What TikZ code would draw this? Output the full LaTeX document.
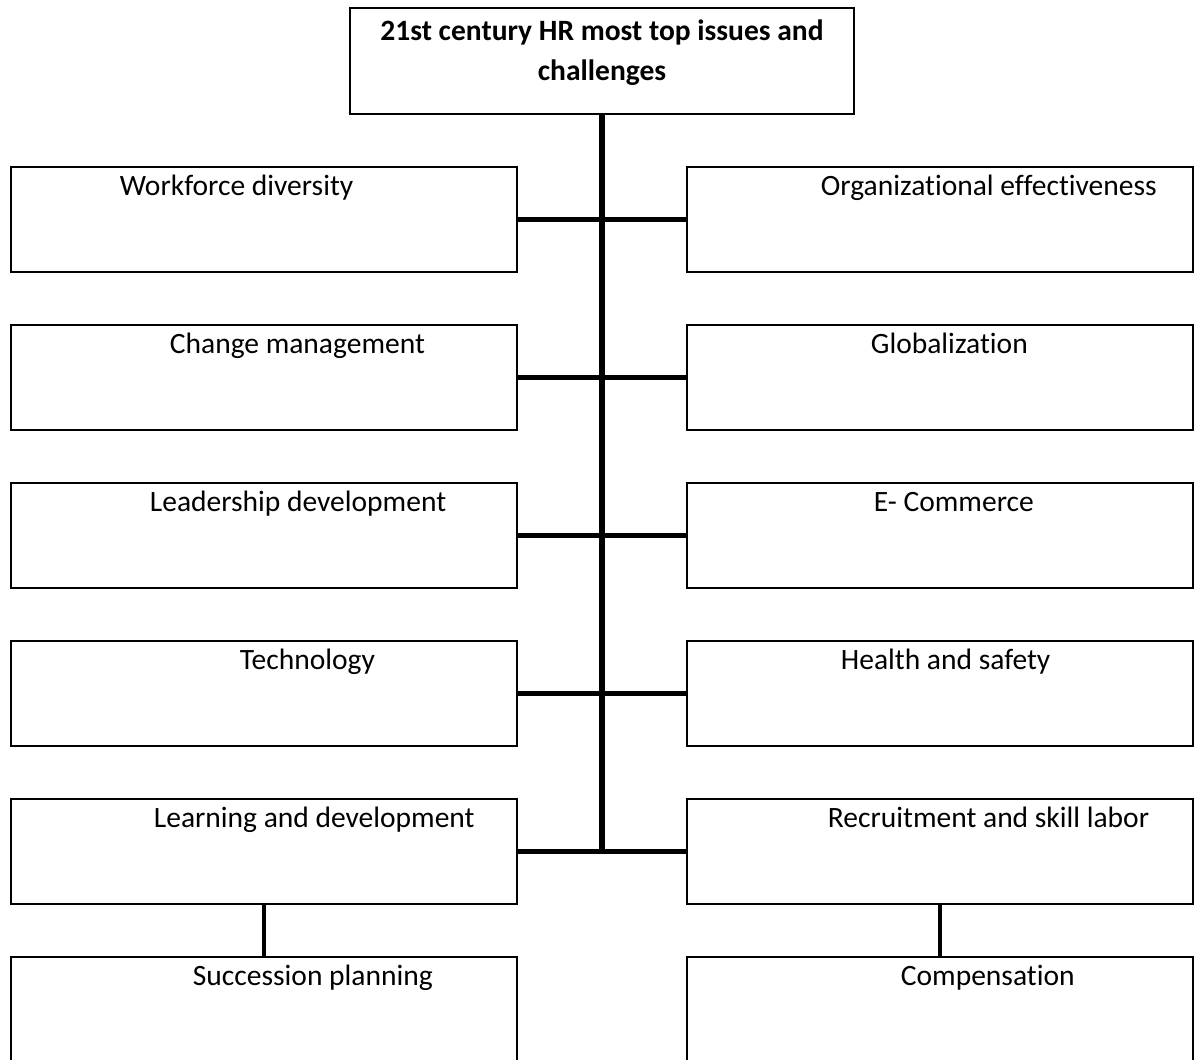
\documentclass[tikz,border=0pt]{standalone}
\usepackage{fontspec}
\setmainfont{Carlito}[Ligatures=NoCommon]

\begin{document}
\begin{tikzpicture}[x=0.02cm,y=-0.02cm,every node/.style={font=\fontsize{16.8}{23.2}\selectfont}]
    \tikzstyle{box}=[rectangle,draw,line width=1.1pt,minimum width=10.14cm,minimum height=2.1cm,inner sep=0pt];
    \tikzstyle{lbl}=[anchor=base west,inner sep=0pt];
    \tikzstyle{link}=[line width=2.8pt];
    \tikzstyle{spine}=[line width=3.7pt];
    \useasboundingbox (0,0) rectangle (1197,1059);
    % --- top: title ---
    \node[box,minimum width=10.1cm,minimum height=2.12cm] (top) at (602,61) {};
    \node[anchor=north,inner sep=0pt,align=center,
          font=\fontsize{16.8}{23.2}\selectfont\bfseries] (ttl) at ([yshift=-0.24cm]top.north)
      {21st century HR most top issues and\\challenges};
    \coordinate (spineend) at (602,853);
    % --- left column ---
    \node[box] (wd)  at (264,219.5)  {};
    \node[box] (cm)  at (264,377.5)  {};
    \node[box] (ld)  at (264,535.5)  {};
    \node[box] (te)  at (264,693.5)  {};
    \node[box] (lnd) at (264,851.5)  {};
    \node[box] (sp)  at (264,1009.5) {};
    \node[lbl] (wdt)  at ([shift={(2.2cm,-0.58cm)}]wd.north west)   {Workforce diversity};
    \node[lbl] (cmt)  at ([shift={(3.2cm,-0.58cm)}]cm.north west)   {Change management};
    \node[lbl] (ldt)  at ([shift={(2.8cm,-0.58cm)}]ld.north west)   {Leadership development};
    \node[lbl] (tet)  at ([shift={(4.6cm,-0.58cm)}]te.north west)   {Technology};
    \node[lbl] (lndt) at ([shift={(2.88cm,-0.58cm)}]lnd.north west) {Learning and development};
    \node[lbl] (spt)  at ([shift={(3.66cm,-0.58cm)}]sp.north west)  {Succession planning};
    % --- right column ---
    \node[box] (oe) at (940,219.5)  {};
    \node[box] (gl) at (940,377.5)  {};
    \node[box] (ec) at (940,535.5)  {};
    \node[box] (hs) at (940,693.5)  {};
    \node[box] (rs) at (940,851.5)  {};
    \node[box] (co) at (940,1009.5) {};
    \node[lbl] (oet) at ([shift={(2.7cm,-0.58cm)}]oe.north west)  {Organizational effectiveness};
    \node[lbl] (glt) at ([shift={(3.7cm,-0.58cm)}]gl.north west)  {Globalization};
    \node[lbl] (ect) at ([shift={(3.76cm,-0.58cm)}]ec.north west) {E- Commerce};
    \node[lbl] (hst) at ([shift={(3.1cm,-0.58cm)}]hs.north west)  {Health and safety};
    \node[lbl] (rst) at ([shift={(2.84cm,-0.58cm)}]rs.north west) {Recruitment and skill labor};
    \node[lbl] (cot) at ([shift={(4.3cm,-0.58cm)}]co.north west)  {Compensation};
    % --- connectors ---
    \draw[spine] (top.south) -- (spineend);
    \draw[link] (wd.east) -- (oe.west);
    \draw[link] (cm.east) -- (gl.west);
    \draw[link] (ld.east) -- (ec.west);
    \draw[link] (te.east) -- (hs.west);
    \draw[link] (lnd.east) -- (rs.west);
    \draw[link] (lnd.south) -- (sp.north);
    \draw[link] (rs.south) -- (co.north);
  \end{tikzpicture}
\end{document}
